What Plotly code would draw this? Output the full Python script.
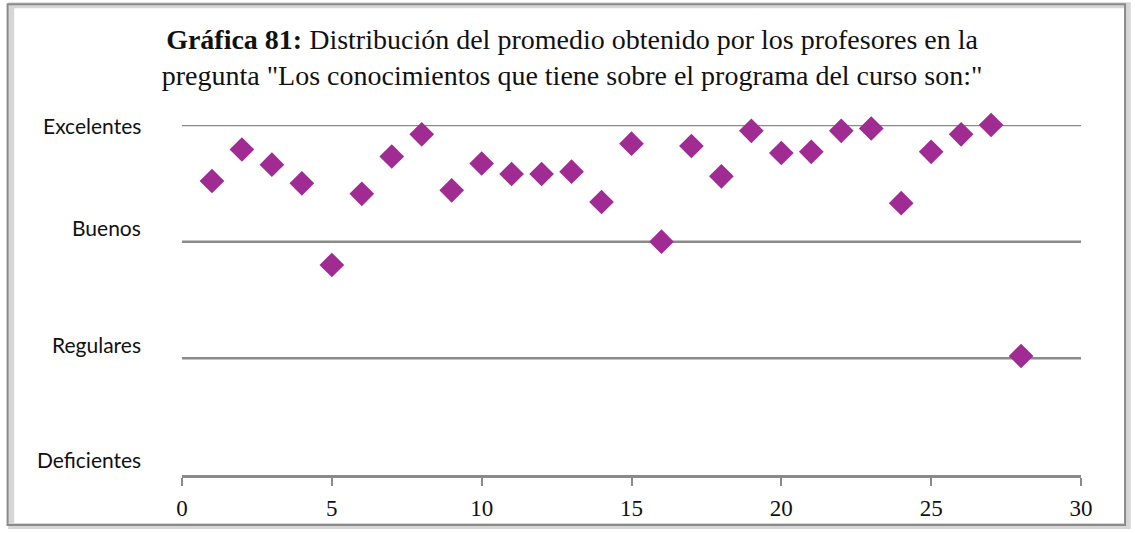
import plotly.graph_objects as go

# Average rating given to each professor (1 = Deficientes ... 4 = Excelentes)
profesores = list(range(1, 29))
promedio = [3.52, 3.79, 3.66, 3.50, 2.80, 3.41, 3.73, 3.92, 3.44, 3.67,
            3.58, 3.58, 3.60, 3.34, 3.84, 3.00, 3.82, 3.56, 3.95, 3.76,
            3.77, 3.95, 3.97, 3.33, 3.77, 3.92, 4.00, 2.02]

niveles = [4, 3, 2, 1]
etiquetas = ["Excelentes", "Buenos", "Regulares", "Deficientes"]
x_ticks = [0, 5, 10, 15, 20, 25, 30]

GRID = "#8a8a8a"
MARK = "#a02b93"

fig = go.Figure()

# Reference lines for the upper levels (the lowest one is the x axis)
for lvl in niveles[:-1]:
    fig.add_hline(y=lvl, line=dict(color=GRID, width=2.5), layer="below")

fig.add_trace(go.Scatter(
    x=profesores, y=promedio, mode="markers",
    marker=dict(symbol="diamond", size=19, color=MARK),
    cliponaxis=False, showlegend=False,
))

# Level labels sit a little above their reference lines
label_shift = {4: 0, 3: 14, 2: 14, 1: 16}
for lvl, txt in zip(niveles, etiquetas):
    fig.add_annotation(
        x=0, xref="paper", xanchor="right", xshift=-39,
        y=lvl, yref="y", yanchor="middle", yshift=label_shift[lvl],
        text=txt, showarrow=False,
        font=dict(family="Lato", size=21, color="#111111"),
    )

# Outer frame with a soft shadow
fig.add_shape(type="rect", xref="paper", yref="paper",
              x0=-0.190, x1=1.052, y0=-0.146, y1=1.342,
              line=dict(color="#d6d6d6", width=6), layer="below")
fig.add_shape(type="rect", xref="paper", yref="paper",
              x0=-0.194, x1=1.049, y0=-0.143, y1=1.345,
              line=dict(color="#8a8a8a", width=2), layer="below")

fig.update_layout(
    width=1135, height=533,
    margin=dict(l=182, r=54, t=125, b=58),
    paper_bgcolor="white", plot_bgcolor="white",
    title=dict(
        text="<b>Gráfica 81:</b> Distribución del promedio obtenido por los profesores en la"
             "<br>pregunta \"Los conocimientos que tiene sobre el programa del curso son:\"",
        x=0.504, xanchor="center", y=0.908, yanchor="top",
        font=dict(family="Liberation Serif", size=28, color="#111111"),
    ),
    xaxis=dict(
        range=[0, 30], tickvals=x_ticks, showgrid=False, zeroline=False,
        showline=True, linecolor=GRID, linewidth=2.5,
        ticks="outside", ticklen=8, tickwidth=2, tickcolor=GRID,
        ticklabelstandoff=3,
        tickfont=dict(family="Liberation Serif", size=23, color="#111111"),
    ),
    yaxis=dict(
        range=[1, 4], tickvals=niveles, showticklabels=False,
        showgrid=False, zeroline=False, showline=False, ticks="",
    ),
)

fig.write_html("out.html")
